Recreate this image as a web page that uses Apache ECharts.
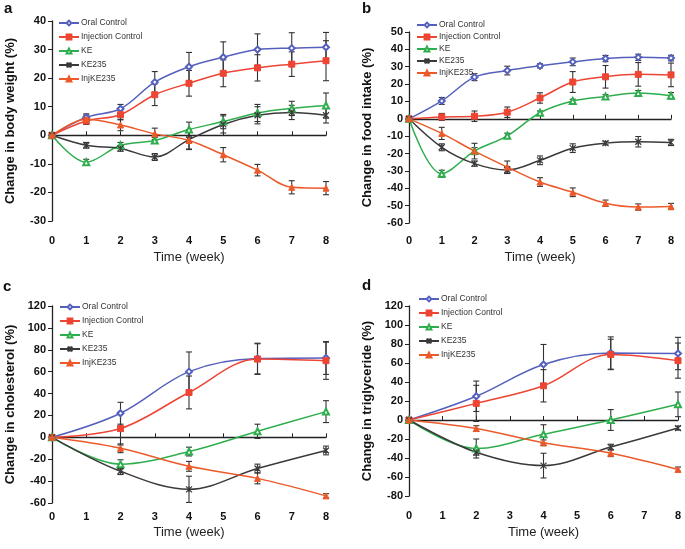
<!DOCTYPE html>
<html><head><meta charset="utf-8">
<script src="https://cdn.jsdelivr.net/npm/echarts@6/dist/echarts.min.js"></script>
<style>html,body{margin:0;padding:0;background:#fff}#c{width:685px;height:549px}</style>
</head><body><div id="c"></div>
<script>
const seriesNames = ['Oral Control','Injection Control','KE','KE235','InjKE235'];
const weeksAB = [0,1,2,3,4,5,6,7,8];
const weeksCD = [0,2,4,6,8];
const panelLetters = ['a','b','c','d'];
const yTitles = ['Change in body weight (%)','Change in food intake (%)','Change in cholesterol (%)','Change in triglyceride (%)'];
const xTitle = 'Time (week)';

// a: body weight
const bwOral = [0, 6.3, 9.3, 18.6, 24, 27.3, 30, 30.5, 30.8];
const bwOralErr = [0, 1.2, 1.5, 3.7, 5, 5.4, 5.5, 5.4, 5.2];
const bwInj = [0, 5, 7.2, 14.2, 18.2, 21.7, 23.6, 24.9, 26.1];
const bwInjErr = [0, 1.2, 1.8, 3.8, 4.5, 4.7, 4.6, 4.3, 7];
const bwKE = [0, -9.4, -3.5, -1.8, 2, 4.8, 7.8, 9.4, 10.4];
const bwKEErr = [0, 1, 1, 1, 2.6, 2.5, 3, 2.5, 4.4];
const bwKE235 = [0, -3.5, -4.6, -7.6, -1.5, 3.8, 7, 8, 7];
const bwKE235Err = [0, 1, 1, 1.2, 3.5, 3, 3, 2.5, 2.7];
const bwInjKE = [0, 5.6, 3.6, 0.5, -1.8, -6.8, -12.2, -18.2, -18.5];
const bwInjKEErr = [0, 1.5, 2, 2, 3, 2.5, 2, 2.3, 2.3];

// b: food intake
const fiOral = [0, 10.3, 24, 27.8, 30.5, 32.8, 34.7, 35.4, 35];
const fiOralErr = [0, 2, 2, 2.5, 1.2, 2.2, 1.8, 1.8, 1.6];
const fiInj = [0, 1.1, 1.5, 3.8, 12, 21.2, 24.2, 25.6, 25.3];
const fiInjErr = [0, 2, 3, 3, 3, 6, 6.5, 6.8, 6.8];
const fiKE = [0, -31.6, -18.6, -9.8, 3.5, 10.3, 12.9, 14.8, 13.3];
const fiKEErr = [0, 2, 2, 1.5, 1, 1, 1, 1.5, 1.8];
const fiKE235 = [0, -16.4, -25.8, -29.5, -23.9, -16.9, -14, -13.2, -13.6];
const fiKE235Err = [0, 2, 1.5, 2, 2.5, 2.5, 1, 3, 1.8];
const fiInjKE = [0, -8.4, -18.6, -27.8, -36.4, -42.3, -48.6, -50.8, -50.5];
const fiInjKEErr = [0, 3.5, 4.5, 3.5, 2.5, 2.5, 1.8, 1.8, 1.8];

// c: cholesterol
const chOral = [0, 22, 60, 72, 72.5];
const chOralErr = [0, 10, 18, 14, 15];
const chInj = [0, 8, 41, 71.5, 70];
const chInjErr = [0, 15, 15, 14, 17];
const chKE = [0, -24.5, -13, 5.5, 23.5];
const chKEErr = [0, 4, 4, 6.5, 10];
const chKE235 = [0, -31, -47.5, -28.5, -12];
const chKE235Err = [0, 3, 12, 4, 4];
const chInjKE = [0, -10, -26.5, -37.5, -53.5];
const chInjKEErr = [0, 4, 4.5, 5, 2];

// d: triglyceride
const tgOral = [0, 25, 58.5, 70.5, 70];
const tgOralErr = [0, 16, 21, 17, 17];
const tgInj = [0, 17.5, 36, 69, 62.5];
const tgInjErr = [0, 19, 17, 16, 18.5];
const tgKE = [0, -30, -15, 0, 16.5];
const tgKEErr = [0, 10, 10, 11, 13];
const tgKE235 = [0, -34, -48, -28.5, -8.5];
const tgKE235Err = [0, 3, 13, 3, 2];
const tgInjKE = [0, -9, -24, -35, -52];
const tgInjKEErr = [0, 3, 3, 3.5, 2.5];

const yMin = [-30, -60, -60, -80];
const yMax = [40, 50, 120, 120];
const yStep = [10, 10, 20, 20];

const panelWeeks = [weeksAB, weeksAB, weeksCD, weeksCD];
const panelValues = [
  [bwOral, bwInj, bwKE, bwKE235, bwInjKE],
  [fiOral, fiInj, fiKE, fiKE235, fiInjKE],
  [chOral, chInj, chKE, chKE235, chInjKE],
  [tgOral, tgInj, tgKE, tgKE235, tgInjKE]
];
const panelErrs = [
  [bwOralErr, bwInjErr, bwKEErr, bwKE235Err, bwInjKEErr],
  [fiOralErr, fiInjErr, fiKEErr, fiKE235Err, fiInjKEErr],
  [chOralErr, chInjErr, chKEErr, chKE235Err, chInjKEErr],
  [tgOralErr, tgInjErr, tgKEErr, tgKE235Err, tgInjKEErr]
];

// layout / style
const grids = [
  {left: 52, top: 21, width: 274, height: 200},
  {left: 409, top: 32, width: 262, height: 191},
  {left: 52, top: 306, width: 274, height: 197},
  {left: 409, top: 306, width: 269, height: 190}
];
const xLabelMargin = [14, 12, 8, 14];
const xNameGap = [30, 28, 23, 30];
const legendPos = [
  {left: 58, top: 18, itemGap: 4},
  {left: 416, top: 20, itemGap: 2},
  {left: 59, top: 302, itemGap: 4},
  {left: 418, top: 294, itemGap: 4}
];
const letterPos = [[4, 1], [362, 1], [3, 279], [362, 278]];

const colors = ['#5560bd', '#ee4433', '#2fae4e', '#3a3a3a', '#ec5a2a'];
const symbols = ['emptyDiamond', 'rect', 'emptyTriangle',
  'path://M0,0L10,10M10,0L0,10M5,0L5,10', 'triangle'];
const symbolSizes = [6, 6, 6, 6, 6];
const FONT = '"Liberation Sans", Arial, sans-serif';

function errRender(params, api) {
  const x = api.value(0), y = api.value(1), e = api.value(2);
  if (!e) return {type: 'group', children: []};
  const t = api.coord([x, y + e]), b = api.coord([x, y - e]);
  const st = {stroke: '#333', lineWidth: 1.1};
  return {type: 'group', children: [
    {type: 'line', shape: {x1: t[0], y1: t[1], x2: b[0], y2: b[1]}, style: st},
    {type: 'line', shape: {x1: t[0] - 3, y1: t[1], x2: t[0] + 3, y2: t[1]}, style: st},
    {type: 'line', shape: {x1: b[0] - 3, y1: b[1], x2: b[0] + 3, y2: b[1]}, style: st}
  ]};
}

const xAxes = [], yAxes = [], series = [], legends = [], graphics = [];
for (let p = 0; p < 4; p++) {
  xAxes.push({
    type: 'value', gridIndex: p, min: 0, max: 8, interval: 1, position: 'bottom',
    axisLine: {show: true, onZero: true, lineStyle: {color: '#222', width: 1.3}},
    axisTick: {show: true, inside: true, length: 4, lineStyle: {color: '#222'}},
    axisLabel: {show: false}, splitLine: {show: false}
  });
  xAxes.push({
    type: 'value', gridIndex: p, min: 0, max: 8, interval: 1, position: 'bottom',
    axisLine: {show: false, onZero: false}, axisTick: {show: false}, splitLine: {show: false},
    axisLabel: {margin: xLabelMargin[p], fontSize: 11, fontWeight: 'bold', color: '#111', fontFamily: FONT},
    name: xTitle, nameLocation: 'middle', nameGap: xNameGap[p],
    nameTextStyle: {fontSize: 13, color: '#222', fontFamily: FONT}
  });
  yAxes.push({
    type: 'value', gridIndex: p, min: yMin[p], max: yMax[p], interval: yStep[p],
    axisLine: {show: true, onZero: false, lineStyle: {color: '#222', width: 1.3}},
    axisTick: {show: true, length: 4, lineStyle: {color: '#222'}},
    splitLine: {show: false},
    axisLabel: {margin: 6, fontSize: 11, fontWeight: 'bold', color: '#111', fontFamily: FONT},
    name: yTitles[p], nameLocation: 'middle', nameGap: 35,
    nameTextStyle: {fontSize: 13, fontWeight: 'bold', color: '#111', fontFamily: FONT}
  });
  const w = panelWeeks[p];
  for (let s = 0; s < 5; s++) {
    const vals = panelValues[p][s], errs = panelErrs[p][s];
    series.push({
      type: 'custom', name: 'err' + p + s, xAxisIndex: 2 * p + 1, yAxisIndex: p,
      renderItem: errRender, encode: {x: 0, y: 1}, z: 1, silent: true,
      data: w.map((x, i) => [x, vals[i], errs[i]])
    });
  }
  for (let s = 0; s < 5; s++) {
    const vals = panelValues[p][s];
    series.push({
      type: 'line', name: seriesNames[s], xAxisIndex: 2 * p + 1, yAxisIndex: p,
      smooth: 0.35, z: 3,
      symbol: symbols[s], symbolSize: symbolSizes[s], showAllSymbol: true,
      lineStyle: {color: colors[s], width: 1.5},
      itemStyle: {color: colors[s], borderColor: colors[s], borderWidth: s === 3 ? 1.2 : 1},
      data: w.map((x, i) => [x, vals[i]])
    });
  }
  legends.push({
    orient: 'vertical', left: legendPos[p].left, top: legendPos[p].top,
    itemGap: legendPos[p].itemGap, itemWidth: 20, itemHeight: 6,
    selectedMode: false, data: seriesNames, padding: 0,
    textStyle: {fontSize: 8.5, color: '#333', fontFamily: FONT, padding: [0, 0, 0, -3], lineHeight: 10}
  });
  graphics.push({
    type: 'text', left: letterPos[p][0], top: letterPos[p][1],
    style: {text: panelLetters[p], font: 'bold 15px ' + FONT, fill: '#111'}
  });
}

const chart = echarts.init(document.getElementById('c'));
chart.setOption({
  backgroundColor: '#fff',
  animation: false,
  textStyle: {fontFamily: FONT},
  grid: grids,
  xAxis: xAxes,
  yAxis: yAxes,
  legend: legends,
  graphic: graphics,
  series: series
});
</script></body></html>
